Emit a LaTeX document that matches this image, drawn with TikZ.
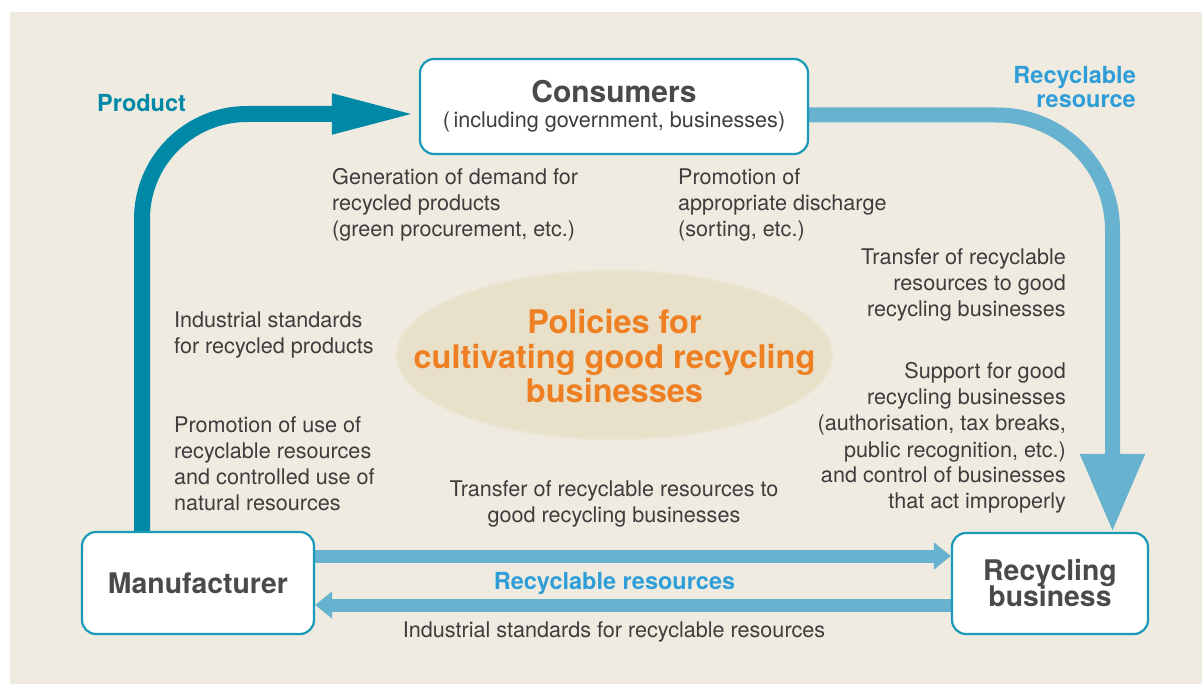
\documentclass[tikz,border=0pt]{standalone}
\usepackage{fontspec}
\setmainfont{TeX Gyre Heros}
\usetikzlibrary{arrows.meta,shapes.geometric,calc}

\definecolor{bgcream}{HTML}{EFEBE1}
\definecolor{prodteal}{HTML}{0089A6}
\definecolor{boxteal}{HTML}{1A9AB6}
\definecolor{flowblue}{HTML}{67B2CF}
\definecolor{labelblue}{HTML}{2F9ED8}
\definecolor{bodygray}{HTML}{3D3D3D}
\definecolor{headgray}{HTML}{4A4A4A}
\definecolor{policyorange}{HTML}{EE7F22}
\definecolor{ovalfill}{HTML}{E8E0C8}

% stacked lines with a fixed baseline distance; the block's baseline is its first line
\newcommand{\lefttxt}[1]{\vtop{\lineskiplimit=-100pt\relax\let\\\cr\halign{##\hfil\cr#1\cr}}}
\newcommand{\righttxt}[1]{\vtop{\lineskiplimit=-100pt\relax\let\\\cr\halign{\hfil##\cr#1\cr}}}
\newcommand{\centertxt}[1]{\vtop{\lineskiplimit=-100pt\relax\let\\\cr\halign{\hfil##\hfil\cr#1\cr}}}

\pgfdeclarelayer{bg}
\pgfsetlayers{bg,main}

\tikzset{
  entity/.style={rectangle, draw=boxteal, line width=2.2pt, fill=white,
    rounded corners=14pt, inner sep=0pt},
  body/.style={font=\fontsize{21.6}{26}\selectfont, text=bodygray, inner sep=0pt},
  flowlabel/.style={font=\bfseries\fontsize{23.5}{24}\selectfont, inner sep=0pt},
  boxtitle/.style={font=\bfseries\fontsize{28.4}{26.5}\selectfont, text=headgray, inner sep=0pt},
  smallflow/.style={flowblue, line width=13pt, -{Triangle[length=17pt,width=26pt]}},
}

\begin{document}
\begin{tikzpicture}[x=1pt,y=-1pt]
\useasboundingbox (0,0) rectangle (1202,684);

% actors
\node[entity, minimum width=388pt, minimum height=95pt] (cons) at (614,106.5) {};
\node[entity, minimum width=232pt, minimum height=102pt] (mfr) at (198,583) {};
\node[entity, minimum width=196pt, minimum height=101pt] (recyc) at (1050,583.5) {};

\coordinate (prodtop) at (142,114);
\coordinate (rescorner) at (1112.5,115);
\coordinate (toplane) at (0,556);
\coordinate (botlane) at (0,605);

\begin{pgfonlayer}{bg}
  \fill[white] (0,0) rectangle (1202,684);
  \fill[bgcream] (10,12) rectangle (1202,684);
  % soft-edged policy oval
  \fill[ovalfill!45!bgcream] (614.5,355) ellipse [x radius=219, y radius=85.5];
  \fill[ovalfill!80!bgcream] (614.5,355) ellipse [x radius=217.5, y radius=84];
  \node[ellipse, fill=ovalfill, minimum width=431pt, minimum height=164pt, inner sep=0pt] (policy) at (614.5,355) {};

  % product flow: manufacturer -> consumers
  \draw[prodteal, line width=16pt, rounded corners=105pt,
        -{Triangle[length=87pt,width=36pt]}]
    (mfr.north -| prodtop) -- (prodtop) -- (cons.west |- prodtop);
  % recyclable resource: consumers -> recycling business
  \draw[flowblue, line width=15pt, rounded corners=115pt,
        -{Triangle[length=78pt,width=61pt]}]
    (cons.east |- rescorner) -- (rescorner) -- (recyc.north -| rescorner);
  % exchange between manufacturer and recycling business
  \draw[smallflow] (mfr.east |- toplane) -- (recyc.west |- toplane);
  \draw[smallflow] (recyc.west |- botlane) -- (mfr.east |- botlane);
\end{pgfonlayer}

% box titles
\node[font=\bfseries\fontsize{30}{30}\selectfont, text=headgray, inner sep=0pt, anchor=base]
  (constitle) at (614,103) {Consumers};
\node[body, anchor=base] (conssub) at (614,128) {(\,including government, businesses)};
\node[boxtitle, anchor=base] (mfrtitle) at (198,593) {Manufacturer};
\node[boxtitle, anchor=base] (recyctitle) at (1050,580) {\centertxt{Recycling\\business}};

% flow labels
\node[flowlabel, text=prodteal, anchor=base west] (prodlbl) at (97,112) {Product};
\node[flowlabel, text=labelblue, anchor=base east] (reslbl) at (1136,84) {\righttxt{Recyclable\\resource}};
\node[flowlabel, text=labelblue, anchor=base] (reslbl2) at (614.5,589) {Recyclable resources};

% policy heading
\node[font=\bfseries\fontsize{32.5}{34.5}\selectfont, text=policyorange, inner sep=0pt, anchor=base]
  (policytxt) at (614.5,334) {\centertxt{Policies for\\cultivating good recycling\\businesses}};

% policy measures
\node[body, anchor=base west] (demand) at (332,185)
  {\lefttxt{Generation of demand for\\recycled products\\(green procurement, etc.)}};
\node[body, anchor=base west] (discharge) at (678,185)
  {\lefttxt{Promotion of\\appropriate discharge\\(sorting, etc.)}};
\node[body, anchor=base east] (transferR) at (1066,265)
  {\righttxt{Transfer of recyclable\\resources to good\\recycling businesses}};
\node[body, anchor=base east] (support) at (1066,379)
  {\righttxt{Support for good\\recycling businesses\\(authorisation, tax breaks,\\public recognition, etc.)\\and control of businesses\\that act improperly}};
\node[body, anchor=base west] (stdprod) at (174,328)
  {\lefttxt{Industrial standards\\for recycled products}};
\node[body, anchor=base west] (useres) at (174,432)
  {\lefttxt{Promotion of use of\\recyclable resources\\and controlled use of\\natural resources}};
\node[body, anchor=base] (transferC) at (614,496)
  {\centertxt{Transfer of recyclable resources to\\good recycling businesses}};
\node[body, anchor=base] (stdres) at (614,637) {Industrial standards for recyclable resources};
\end{tikzpicture}
\end{document}
